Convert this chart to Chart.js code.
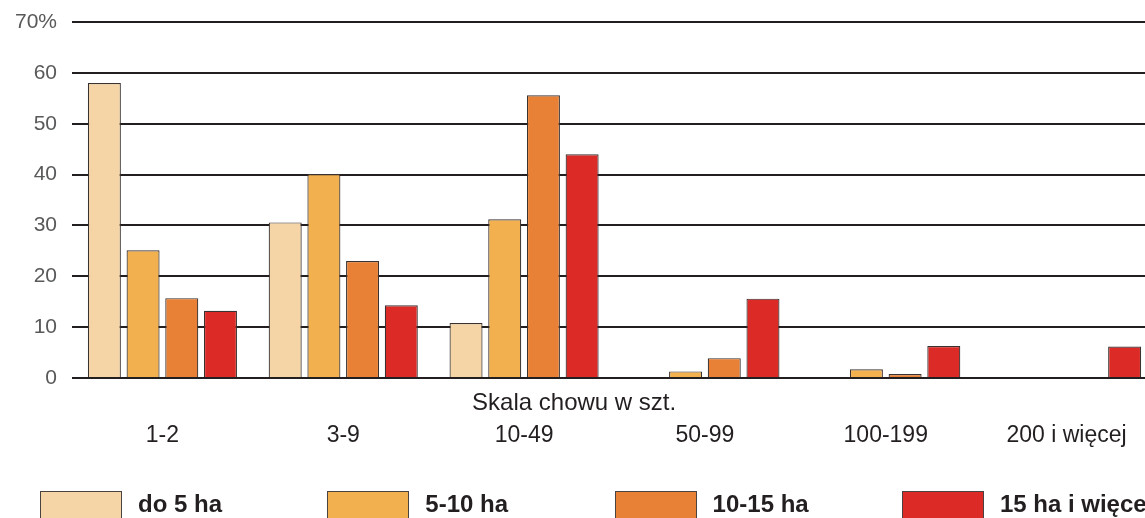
<!DOCTYPE html>
<html>
<head>
<meta charset="utf-8">
<script src="https://cdn.jsdelivr.net/npm/chart.js@4/dist/chart.umd.min.js"></script>
<style>
  html, body { margin: 0; padding: 0; background: #fff; overflow: hidden; width: 1145px; height: 518px; }
  #wrap { position: absolute; left: 0; top: 0; width: 1157px; height: 518px; }
  #legend { position: absolute; left: 0; top: 491px; width: 1200px; height: 40px; font-family: "Liberation Sans", Arial, sans-serif; }
  .li { position: absolute; top: 0; height: 40px; }
  .box { position: absolute; left: 0; top: 0; width: 82px; height: 40px; border: 1.5px solid #4a4240; box-sizing: border-box; }
  .lt { position: absolute; left: 98px; top: -1px; font-weight: bold; font-size: 24px; color: #231f20; white-space: nowrap; }
</style>
</head>
<body>
<div id="wrap"><canvas id="c" width="1157" height="518"></canvas></div>
<div id="legend"></div>
<script>
const categories = ["1-2", "3-9", "10-49", "50-99", "100-199", "200 i więcej"];
const seriesNames = ["do 5 ha", "5-10 ha", "10-15 ha", "15 ha i więcej"];
const do5ha     = [58.0, 30.6, 10.8, 0,    0,   0];
const ha5_10    = [25.1, 40.1, 31.2, 1.3,  1.7, 0];
const ha10_15   = [15.7, 23.0, 55.6, 3.9,  0.8, 0.2];
const ha15plus  = [13.2, 14.3, 44.0, 15.6, 6.3, 6.2];
const yTicks = [0, 10, 20, 30, 40, 50, 60, 70];
const axisTitle = "Skala chowu w szt.";

const colors = ["#f5d4a5", "#f2b04f", "#e88035", "#dc2a27"];
const seriesData = [do5ha, ha5_10, ha10_15, ha15plus];

const titlePlugin = {
  id: 'xtitle',
  afterDraw(chart) {
    const ctx = chart.ctx;
    const x = chart.scales.x;
    ctx.save();
    ctx.font = '24px "Liberation Sans", Arial, sans-serif';
    ctx.fillStyle = '#231f20';
    ctx.textAlign = 'left';
    ctx.textBaseline = 'middle';
    ctx.fillText(axisTitle, x.getPixelForValue(2) - 52, 403);
    ctx.restore();
  }
};

new Chart(document.getElementById('c'), {
  type: 'bar',
  data: {
    labels: categories,
    datasets: seriesData.map((d, i) => ({
      label: seriesNames[i],
      data: d,
      backgroundColor: colors[i],
      borderColor: '#3a3230',
      borderWidth: 1.2,
      categoryPercentage: 0.856,
      barPercentage: 0.853
    }))
  },
  options: {
    responsive: false,
    animation: false,
    layout: { padding: { top: 22, left: 0, right: 0, bottom: 0 } },
    plugins: { legend: { display: false }, tooltip: { enabled: false } },
    scales: {
      x: {
        grid: { display: false, drawTicks: false },
        border: { display: false },
        ticks: {
          color: '#231f20',
          font: { family: '"Liberation Sans", Arial, sans-serif', size: 23 },
          padding: 44,
          maxRotation: 0,
          autoSkip: false
        },
        afterFit(s) { s.height = 140; s.paddingLeft = 0; s.paddingRight = 0; }
      },
      y: {
        min: 0, max: 70,
        afterBuildTicks(s) { s.ticks = yTicks.map(v => ({ value: v })); },
        grid: { color: '#231f20', lineWidth: 2, drawTicks: false },
        border: { display: false },
        ticks: {
          color: '#58595b',
          font: { family: '"Liberation Sans", Arial, sans-serif', size: 21 },
          padding: 15,
          callback: (v) => v === 70 ? '70%' : String(v)
        },
        afterFit(s) { s.width = 72; s.paddingTop = 0; s.paddingBottom = 0; }
      }
    }
  },
  plugins: [titlePlugin]
});

const lg = document.getElementById('legend');
seriesNames.forEach((n, i) => {
  const d = document.createElement('div');
  d.className = 'li';
  d.style.left = (40 + i * 287.3) + 'px';
  d.innerHTML = '<div class="box" style="background:' + colors[i] + '"></div><div class="lt">' + n + '</div>';
  lg.appendChild(d);
});
</script>
</body>
</html>
